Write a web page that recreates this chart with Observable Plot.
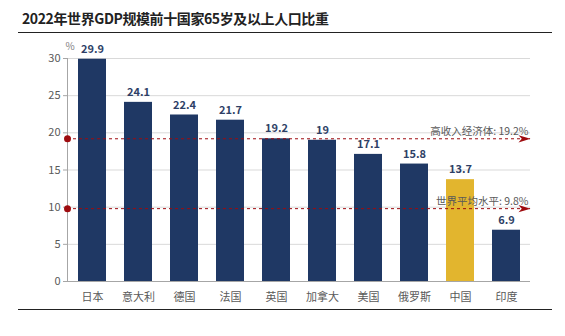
<!DOCTYPE html>
<html><head><meta charset="utf-8">
<script src="https://cdn.jsdelivr.net/npm/d3@7"></script>
<script src="https://cdn.jsdelivr.net/npm/@observablehq/plot@0.6"></script>
<style>
body{margin:0;background:#fff;font-family:"Noto Sans CJK SC","Noto Sans",sans-serif;position:relative;width:565px;height:336px;overflow:hidden;}
#title{position:absolute;left:22px;top:8px;font-size:14px;letter-spacing:-0.4px;font-weight:bold;color:#222;line-height:20px;white-space:nowrap;}
.hr{position:absolute;left:18px;width:534px;height:0;border-top:1.5px solid #222;}
#chart{position:absolute;left:0;top:35px;}
#chart svg{max-width:none;display:block;}
</style></head><body>
<div id="title">2022年世界GDP规模前十国家65岁及以上人口比重</div>
<div class="hr" style="top:32px"></div>
<div id="chart"></div>
<div class="hr" style="top:309px"></div>
<script>
const countries = ["日本","意大利","德国","法国","英国","加拿大","美国","俄罗斯","中国","印度"];
const values = [29.9,24.1,22.4,21.7,19.2,19,17.1,15.8,13.7,6.9];
const highlight = "中国";
const refValues = [19.2, 9.8];
const refLabels = ["高收入经济体: 19.2%", "世界平均水平: 9.8%"];
const yTicks = [0,5,10,15,20,25,30];
const gridTicks = [5,10,15,20,25,30];
const yUnit = "%";

const data = countries.map((c,i)=>({country:c, value:values[i]}));
const refs = refValues.map((v,i)=>({value:v, label:refLabels[i]}));

const navy = "#1f3864", gold = "#e2b52e", red = "#9e0b0f";
const font = "Noto Sans CJK SC";

// stealth arrowhead pointing right
const stealth = {
  draw(ctx, size) {
    const s = Math.sqrt(size) * 0.68;
    ctx.moveTo(s, 0);
    ctx.lineTo(-s, -0.6 * s);
    ctx.lineTo(-0.45 * s, 0);
    ctx.lineTo(-s, 0.6 * s);
    ctx.closePath();
  }
};

const chart = Plot.plot({
  width: 565, height: 272,
  marginLeft: 67, marginRight: 35, marginTop: 23, marginBottom: 26,
  style: {fontFamily: font, fontSize: "11px", color: "#595959", background: "#fff"},
  x: {domain: countries, paddingInner: 0.4, paddingOuter: 0.2, label: null},
  y: {domain: [0,30], label: null},
  marks: [
    Plot.ruleY(gridTicks, {stroke: "#d9d9d9", strokeWidth: 1}),
    Plot.barY(data, {x: "country", y: "value", fill: d => d.country === highlight ? gold : navy}),
    Plot.ruleY([0], {stroke: "#a6a6a6", strokeWidth: 1.2}),
    Plot.frame({anchor: "left", stroke: "#a6a6a6"}),
    Plot.axisY(yTicks, {tickSize: 4, tickPadding: 3, stroke: "#a6a6a6", fill: "#595959", fontSize: 11, label: null}),
    Plot.axisX({tickSize: 0, tickPadding: 12, fill: "#595959", fontSize: 11, label: null}),
    Plot.text([yUnit], {frameAnchor: "top-left", dy: -16, dx: -2, fill: "#7f7f7f", fontSize: 10}),
    Plot.text(data, {x: "country", y: "value", text: d => String(d.value), dy: -10, fill: "#2e3f66", fontWeight: "bold", fontSize: 11}),
    Plot.ruleY(refs, {y: "value", stroke: red, strokeWidth: 1, strokeDasharray: "3,3"}),
    Plot.dot(refs, {y: "value", frameAnchor: "left", r: 3.5, fill: red, stroke: "none"}),
    Plot.dot(refs, {y: "value", frameAnchor: "right", symbol: stealth, r: 5, fill: red, stroke: "none", dx: -6}),
    Plot.text(refs, {y: "value", text: "label", frameAnchor: "right", textAnchor: "end", dy: -7, dx: -2, fill: "#595959", fontSize: 10.5})
  ]
});
document.getElementById("chart").appendChild(chart);
</script>
</body></html>
